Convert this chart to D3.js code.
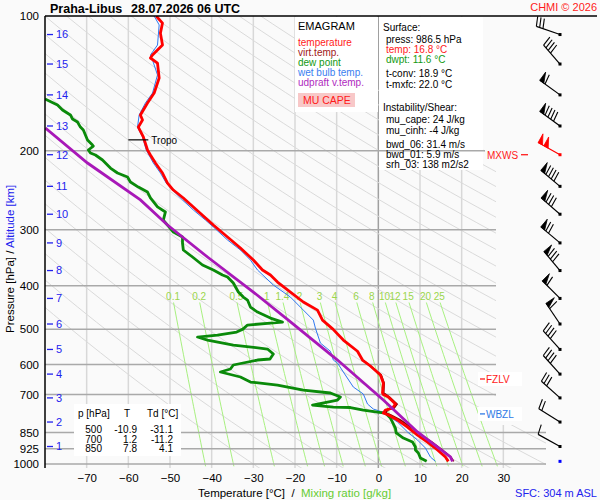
<!DOCTYPE html>
<html><head><meta charset="utf-8">
<script src="https://cdn.jsdelivr.net/npm/d3@7"></script>
<style>
html,body{margin:0;padding:0;background:#fafafa;}
svg{display:block;font-family:"Liberation Sans",Arial,sans-serif;}
</style></head><body>
<svg id="c" width="600" height="500"></svg>
<script>
// ---------- data ----------
const pressureTicks = [100,200,300,400,500,600,700,850,925,1000];
const tempTicks = [-70,-60,-50,-40,-30,-20,-10,0,10,20,30];
const mixingRatios = [0.1,0.2,0.5,1,1.4,2,3,4,6,8,10,12,15,20,25];
const dryAdiabatThetas = [-30,-20,-10,0,10,20,30,40,50,60,70,80,90,100,110,120,130,140,150,160,170,180,190,200];
const kmLevels = [1,2,3,4,5,6,7,8,9,10,11,12,13,14,15,16];
const kmPressure = [914,806,712,630,555,487,427,370,321,277,240,204,176,150,128,110];
const windDir = [299,302,312,318,318,326,315,320,310,311,310,299,306,306,319,289];
const windSpeed = [10,20,30,40,40,60,60,80,70,80,90,100,90,60,40,30];
const maxWindLevel = 12;
const surfacePressure = 986.5;

const temperature = [[100,-53.3],[103.7,-51.8],[109.2,-52.3],[116.1,-51.8],[119.1,-53.0],[122.2,-54.2],[124.1,-54.7],[127.4,-53.0],[137.5,-52.6],[148.6,-53.8],[156.4,-55.4],[166.3,-57.1],[170.7,-56.6],[177,-57.6],[186.2,-56.4],[199.1,-55.4],[204.3,-54.7],[212.9,-53.5],[224.1,-51.8],[236,-50.6],[244.6,-49.2],[254.8,-46.8],[266.8,-44.4],[279.5,-42.0],[292.8,-39.6],[311.4,-36.2],[329.5,-33.1],[350.5,-30.0],[369,-27.8],[378.6,-25.9],[392.5,-24.2],[413.2,-21.1],[434.9,-18.0],[453.4,-14.6],[477.3,-13.4],[500,-10.9],[528.8,-8.4],[560.2,-5.0],[586.1,-3.8],[604.3,-1.9],[632.9,0.5],[659.5,1.2],[694.1,1.0],[700,1.2],[709,2.4],[734.7,4.1],[749.9,3.4],[757.8,1.7],[769.6,1.2],[777.5,2.4],[797.8,4.6],[827,7.0],[861.8,9.4],[893.3,11.8],[930.7,14.2],[964.7,16.1],[986.5,16.8]];
const virtTemp = [[586.1,-3.7],[632.9,0.7],[659.5,1.4],[694.1,1.3],[709,2.7],[734.7,4.5],[749.9,3.8],[757.8,2.2],[769.6,1.8],[777.5,3.0],[797.8,5.3],[827,7.8],[861.8,10.3],[893.3,12.9],[930.7,15.4],[964.7,17.4],[986.5,18.1]];
const dewpoint = [[153.2,-80],[158,-77.0],[162.1,-75.8],[166.3,-73.9],[169.8,-73.4],[172.4,-72.2],[177,-71.5],[179.7,-70.8],[184.3,-70.3],[189.1,-69.8],[194.1,-68.6],[195.1,-68.4],[199.1,-69.6],[202.2,-69.1],[204.3,-67.9],[209.6,-66.2],[218.5,-64.3],[224.1,-62.6],[228.7,-60.2],[234.7,-59.5],[240.9,-57.6],[247.2,-55.4],[254.8,-54.7],[266.8,-53.0],[273.8,-51.1],[285.4,-51.6],[292.8,-50.6],[303.5,-49.2],[311.4,-47.0],[321.2,-47.0],[332.9,-46.8],[345.1,-44.6],[359.6,-42.2],[369,-39.6],[378.6,-37.4],[382.5,-36.2],[394.5,-34.8],[413.2,-33.6],[424,-32.4],[430.6,-31.4],[446.4,-30.7],[458,-29.0],[472.4,-25.9],[482.3,-23.0],[484.7,-25.9],[489.6,-31.4],[500,-32.5],[507.6,-34.0],[515.5,-38.6],[520.7,-43.4],[528.8,-41.0],[542.6,-34.8],[553.8,-26.6],[568.3,-25.2],[583,-26.0],[586,-29.0],[601.2,-34.8],[613.7,-35.5],[623.2,-37.9],[639.5,-33.1],[656.2,-30.7],[666.4,-24.2],[683.7,-18.0],[694.3,-11.5],[708.7,-9.1],[719.7,-9.8],[738.5,-15.8],[746.3,-10.8],[748,-6.7],[757.8,-3.6],[765.6,-0.2],[769.6,1.7],[789.6,2.9],[806,3.4],[831.3,4.1],[852.5,4.3],[875.1,6.0],[893.3,8.2],[916.6,8.9],[930.7,8.9],[944.8,9.6],[969.6,10.1],[986.5,11.6]];
const wetBulb = [[100,-53.8],[104.7,-52.6],[116.1,-53.0],[122.2,-54.7],[125.4,-54.2],[135.4,-53.0],[148.6,-54.2],[156.4,-55.9],[166.3,-57.4],[177,-57.8],[186.2,-56.6],[199.1,-55.7],[212.9,-54.0],[224.1,-52.3],[236,-50.9],[244.6,-49.4],[257.4,-47.0],[271,-44.4],[285.4,-41.5],[295.8,-39.6],[316.2,-36.2],[332.9,-33.1],[350.5,-30.7],[369,-29.0],[398.6,-25.2],[424,-21.1],[453.4,-18.0],[477.3,-15.6],[497.5,-15.1],[537.1,-13.9],[560.2,-11.5],[586.1,-10.8],[595.1,-9.8],[623.2,-8.4],[673.3,-6.0],[697.9,-3.6],[734.7,-2.6],[753.9,-1.2],[765.6,1.0],[806,4.6],[848.2,7.0],[884.1,9.4],[921.2,11.3],[964.7,12.5],[986.5,13.7]];
const parcel = [[177.9,-79.9],[212.9,-69.8],[257.4,-57.1],[292.8,-50.6],[345.1,-41.0],[413.2,-30.0],[477.3,-21.6],[586.1,-9.8],[719.7,1.2],[848.2,9.4],[964.7,17.3],[986.5,17.8]];

const tropo = {p:189, t:-56.4};
const levelMarks = [{label:"MXWS", p:204, color:"#ff1a1a", side:"left"},{label:"FZLV", p:646, color:"#ff1a1a", side:"right"},{label:"WBZL", p:773, color:"#2f7ae6", side:"right"}];
const tableP = ["500","700","850"];
const tableT = ["-10.9","1.2","7.8"];
const tableTd = ["-31.1","-11.2","4.1"];
const legendItems = [["temperature","#ff1a1a"],["virt.temp.","#a01818"],["dew point","#119911"],["wet bulb temp.","#3a7ef0"],["udpraft v.temp.","#b02ac0"]];

// ---------- scales ----------
const x = d3.scaleLinear().domain([-80,40]).range([45,545]);
const y = d3.scaleLog().domain([100,1000]).range([16,464]);
const svg = d3.select("#c");
svg.append("rect").attr("width",600).attr("height",500).attr("fill","#fafafa");

const defs = svg.append("defs");
const cp = defs.append("clipPath").attr("id","plotclip");
cp.append("rect").attr("x",45).attr("y",16).attr("width",451).attr("height",452);
cp.append("rect").attr("x",45).attr("y",425).attr("width",501).attr("height",43);
defs.append("clipPath").attr("id","profclip").append("rect").attr("x",45).attr("y",16).attr("width",510).attr("height",452);

const grid = svg.append("g").attr("clip-path","url(#plotclip)");
// isotherms
grid.selectAll("line.iso").data(tempTicks).join("line")
  .attr("x1",d=>x(d)).attr("x2",d=>x(d)).attr("y1",16).attr("y2",468)
  .attr("stroke",d=>d===0?"#a0a0a0":"#d8d8d8").attr("stroke-width",1.5);
// dry adiabats
const adiP = d3.range(0,61).map(i=>100*Math.pow(10.6,i/60));
const lineTP = d3.line().x(d=>x(d[1])).y(d=>y(d[0]));
grid.selectAll("path.dry").data(dryAdiabatThetas).join("path")
  .attr("d",th=>lineTP(adiP.map(p=>[p,(th+273.15)*Math.pow(p/1000,0.286)-273.15])))
  .attr("fill","none").attr("stroke","#dadada").attr("stroke-width",1);
// mixing ratio lines
function tdew(w,p){const e=w*p/(622+w);const l=Math.log(e/6.112);return 243.5*l/(17.67-l);}
const mrP = d3.range(0,31).map(i=>436+(1012-436)*i/30);
grid.selectAll("path.mr").data(mixingRatios).join("path")
  .attr("d",w=>lineTP(mrP.map(p=>[p,tdew(w,p)])))
  .attr("fill","none").attr("stroke","#a8f080").attr("stroke-width",1);

// panels
svg.append("rect").attr("x",295).attr("y",17).attr("width",83).attr("height",95).attr("fill","#ffffff");
svg.append("rect").attr("x",379).attr("y",17).attr("width",104).attr("height",153).attr("fill","#ffffff");

// pressure lines
svg.selectAll("line.pl").data(pressureTicks.filter(p=>p>100)).join("line")
  .attr("x1",45).attr("x2",p=>p>=850?546:496).attr("y1",p=>y(p)).attr("y2",p=>y(p))
  .attr("stroke","#a9a9a9").attr("stroke-width",1.5);

// mixing ratio labels
svg.selectAll("text.mrl").data(mixingRatios).join("text")
  .attr("x",w=>x(tdew(w,430))).attr("y",300).attr("text-anchor","middle")
  .attr("font-size",10).attr("fill","#9ad64c").text(w=>w);

// table
svg.append("rect").attr("x",74).attr("y",404).attr("width",107).attr("height",52).attr("fill","#ffffff");
const tb = svg.append("g").attr("font-size",10).attr("fill","#000");
tb.append("text").attr("x",78).attr("y",417).text("p [hPa]");
tb.append("text").attr("x",124).attr("y",417).text("T");
tb.append("text").attr("x",147).attr("y",417).text("Td [°C]");
tableP.forEach((v,i)=>{
  const yy=433+i*9.5;
  tb.append("text").attr("x",102).attr("y",yy).attr("text-anchor","end").text(v);
  tb.append("text").attr("x",137).attr("y",yy).attr("text-anchor","end").text(tableT[i]);
  tb.append("text").attr("x",173).attr("y",yy).attr("text-anchor","end").text(tableTd[i]);
});

// profiles
const prof = svg.append("g").attr("clip-path","url(#profclip)");
const pl = d3.line().x(d=>x(d[1])).y(d=>y(d[0]));
prof.append("path").attr("d",pl(wetBulb)).attr("fill","none").attr("stroke","#2f78f0").attr("stroke-width",1);
prof.append("path").attr("d",pl(dewpoint)).attr("fill","none").attr("stroke","#0a8a0a").attr("stroke-width",2.8).attr("stroke-linejoin","round");
prof.append("path").attr("d",pl(virtTemp)).attr("fill","none").attr("stroke","#8a0000").attr("stroke-width",1.6);
prof.append("path").attr("d",pl(temperature)).attr("fill","none").attr("stroke","#ff0000").attr("stroke-width",2.8).attr("stroke-linejoin","round");
prof.append("path").attr("d",pl(parcel)).attr("fill","none").attr("stroke","#a818b8").attr("stroke-width",2.8);

// tropopause
svg.append("line").attr("x1",x(tropo.t)-15).attr("x2",x(tropo.t)+5).attr("y1",y(tropo.p)).attr("y2",y(tropo.p)).attr("stroke","#000").attr("stroke-width",1.2);
svg.append("text").attr("x",x(tropo.t)+8).attr("y",y(tropo.p)+4).attr("font-size",10).text("Tropo");

// axes
svg.append("line").attr("x1",45).attr("x2",597).attr("y1",16).attr("y2",16).attr("stroke","#000").attr("stroke-width",1.5);
svg.append("line").attr("x1",45).attr("x2",45).attr("y1",16).attr("y2",468).attr("stroke","#000").attr("stroke-width",1.5);
const ay = svg.append("g").attr("transform","translate(39,0)")
  .call(d3.axisLeft(y).tickValues(pressureTicks).tickFormat(d3.format("d")).tickSize(0).tickPadding(0));
ay.select(".domain").remove();
ay.selectAll("text").attr("font-size",11.5).attr("font-family","Liberation Sans, Arial, sans-serif").attr("fill","#000");
const ax = svg.append("g").attr("transform","translate(0,474)")
  .call(d3.axisBottom(x).tickValues(tempTicks).tickFormat(d3.format("d")).tickSize(0).tickPadding(0));
ax.select(".domain").remove();
ax.selectAll("text").attr("font-size",11.5).attr("font-family","Liberation Sans, Arial, sans-serif").attr("fill","#000").attr("dy","0.71em");

// km labels
const km = svg.append("g");
kmLevels.forEach((k,i)=>{
  const yy=y(kmPressure[i]);
  km.append("line").attr("x1",47).attr("x2",53).attr("y1",yy).attr("y2",yy).attr("stroke","#2222ee").attr("stroke-width",1.3);
  km.append("text").attr("x",56).attr("y",yy).attr("dy","0.35em").attr("font-size",11).attr("fill","#2222ee").text(k);
});

// axis titles
const yt = svg.append("text").attr("transform","translate(14,333) rotate(-90)").attr("font-size",11.5);
yt.append("tspan").attr("fill","#000").text("Pressure [hPa]  /  ");
yt.append("tspan").attr("fill","#2222ee").text("Altitude [km]");
const xt = svg.append("text").attr("x",198).attr("y",497).attr("font-size",11.5).attr("xml:space","preserve");
xt.append("tspan").attr("fill","#000").text("Temperature [°C]  /  ");
xt.append("tspan").attr("fill","#66cc33").text("Mixing ratio [g/kg]");
svg.append("text").attr("x",597).attr("y",497).attr("text-anchor","end").attr("font-size",11).attr("fill","#2222ee").text("SFC: 304 m ASL");

// title
svg.append("text").attr("x",50).attr("y",13).attr("font-size",12.5).attr("font-weight","bold").text("Praha-Libus");
svg.append("text").attr("x",131).attr("y",13).attr("font-size",12.5).attr("font-weight","bold").text("28.07.2026 06 UTC");
svg.append("text").attr("x",597).attr("y",11).attr("text-anchor","end").attr("font-size",11).attr("fill","#ff1a1a").text("CHMI © 2026");

// legend
svg.append("text").attr("x",298).attr("y",30).attr("font-size",11).text("EMAGRAM");
legendItems.forEach((d,i)=>{
  svg.append("text").attr("x",298).attr("y",46+i*10).attr("font-size",10).attr("fill",d[1]).text(d[0]);
});
svg.append("rect").attr("x",298).attr("y",93).attr("width",57).attr("height",14).attr("fill","#f8c8c8");
svg.append("text").attr("x",303).attr("y",104).attr("font-size",10.5).attr("fill","#ff1a1a").text("MU CAPE");

// info panel
const info = [
  ["Surface:",383,31,"#000"],
  ["press: 986.5 hPa",386,43,"#000"],
  ["temp: 16.8 °C",386,53,"#ff1a1a"],
  ["dwpt: 11.6 °C",386,63,"#119911"],
  ["t-conv: 18.9 °C",386,77,"#000"],
  ["t-mxfc: 22.0 °C",386,88,"#000"],
  ["Instability/Shear:",383,111,"#000"],
  ["mu_cape: 24 J/kg",386,123,"#000"],
  ["mu_cinh: -4 J/kg",386,134,"#000"],
  ["bwd_06: 31.4 m/s",386,148,"#000"],
  ["bwd_01: 5.9 m/s",386,158,"#000"],
  ["srh_03: 138 m2/s2",386,168,"#000"]
];
info.forEach(d=>svg.append("text").attr("x",d[1]).attr("y",d[2]).attr("font-size",10).attr("fill",d[3]).text(d[0]));

// level marks
levelMarks.forEach(m=>{
  const yy=y(m.p);
  if(m.side==="left"){
    svg.append("rect").attr("x",485).attr("y",yy-7).attr("width",45).attr("height",14).attr("fill","#fafafa");
    svg.append("text").attr("x",487).attr("y",yy+4).attr("font-size",10).attr("fill",m.color).text(m.label);
    svg.append("line").attr("x1",521).attr("x2",528).attr("y1",yy).attr("y2",yy).attr("stroke",m.color).attr("stroke-width",1.3);
  } else {
    svg.append("rect").attr("x",478).attr("y",yy-7).attr("width",44).attr("height",14).attr("fill","#ffffff");
    svg.append("line").attr("x1",480).attr("x2",485).attr("y1",yy).attr("y2",yy).attr("stroke",m.color).attr("stroke-width",1.3);
    svg.append("text").attr("x",486).attr("y",yy+4).attr("font-size",10).attr("fill",m.color).text(m.label);
  }
});

// wind barbs
const bg = svg.append("g");
function barb(px,py,dir,spd,color){
  const r=dir*Math.PI/180, dx=Math.sin(r), dy=-Math.cos(r), qx=Math.cos(r), qy=Math.sin(r);
  const L=25, tx=px+dx*L, ty=py+dy*L, bl=10;
  bg.append("line").attr("x1",px).attr("y1",py).attr("x2",tx).attr("y2",ty).attr("stroke",color).attr("stroke-width",1.2);
  const sp=pos=>[tx-dx*pos,ty-dy*pos];
  let s=spd,pos=0;
  while(s>=50){
    const a=sp(pos),b=sp(pos+5);
    bg.append("polygon").attr("points",[a,[a[0]+qx*bl,a[1]+qy*bl],b].map(p=>p.join(",")).join(" ")).attr("fill",color).attr("stroke",color).attr("stroke-width",0.8);
    pos+=6.5; s-=50;
  }
  while(s>=10){
    const a=sp(pos);
    bg.append("line").attr("x1",a[0]).attr("y1",a[1]).attr("x2",a[0]+qx*bl+dx*2).attr("y2",a[1]+qy*bl+dy*2).attr("stroke",color).attr("stroke-width",1.1);
    pos+=3.5; s-=10;
  }
  if(s>=5){
    const a=sp(pos);
    bg.append("line").attr("x1",a[0]).attr("y1",a[1]).attr("x2",a[0]+qx*bl/2+dx).attr("y2",a[1]+qy*bl/2+dy).attr("stroke",color).attr("stroke-width",1.1);
  }
  bg.append("rect").attr("x",px-1.5).attr("y",py-1.5).attr("width",3).attr("height",3).attr("fill",color);
}
kmLevels.forEach((k,i)=>{
  barb(560,y(kmPressure[i]),windDir[i],windSpeed[i],k===maxWindLevel?"#ff0000":"#000");
});
bg.append("rect").attr("x",558.5).attr("y",y(surfacePressure)-1.5).attr("width",3).attr("height",3).attr("fill","#0000ff");
</script>
</body></html>
